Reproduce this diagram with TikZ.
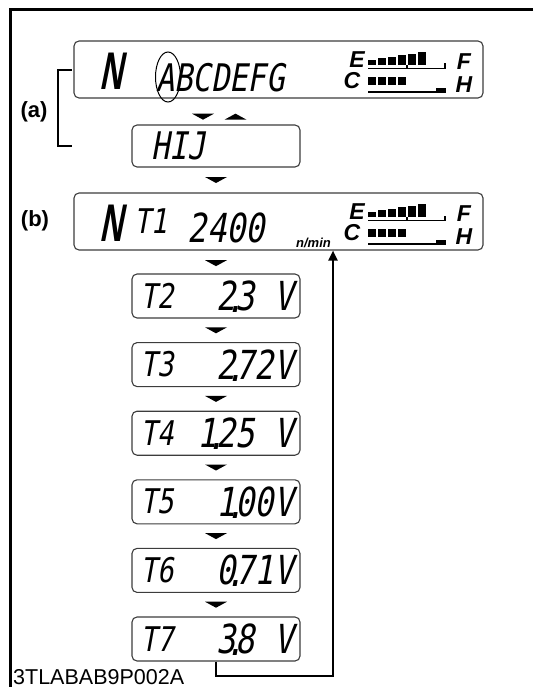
\documentclass[tikz,border=0pt]{standalone}
\usepackage{fontspec}
\setmainfont{Liberation Sans}
\newfontfamily\lcdfont{DejaVu Sans Mono}[FakeStretch=0.8,FakeSlant=0.18]
\newfontfamily\gearfont{Liberation Sans}[FakeStretch=0.6,FakeSlant=0.2]
\usepackage{tikz}
\usetikzlibrary{
    arrows.meta,
    positioning,
    calc,
    shapes.geometric
}
\definecolor{PanelEdge}{RGB}{60,60,60}
\newcommand{\lcddot}{\smash{\raisebox{-2pt}{\makebox[0pt]{.}}}}
\newcommand{\lcdgap}{\phantom{0}}
\tikzset{
    panel/.style={
        draw=PanelEdge,
        line width=1.1pt,
        rounded corners=5pt,
        inner sep=0pt,
        minimum width=409pt,
        minimum height=57pt
    },
    stepbox/.style={
        draw=PanelEdge,
        line width=1.1pt,
        rounded corners=5pt,
        inner sep=0pt,
        minimum width=168pt,
        minimum height=44pt
    },
    lcdtext/.style={
        font=\lcdfont\fontsize{38pt}{38pt}\selectfont,
        inner sep=0pt
    },
    lcdsmall/.style={
        font=\lcdfont\fontsize{34pt}{34pt}\selectfont,
        inner sep=0pt
    },
    lcdnum/.style={
        font=\lcdfont\fontsize{40pt}{40pt}\selectfont,
        inner sep=0pt
    },
    gear/.style={
        font=\gearfont\bfseries\fontsize{53pt}{53pt}\selectfont,
        inner sep=0pt
    },
    gaugelbl/.style={
        font=\bfseries\itshape\fontsize{23pt}{23pt}\selectfont,
        inner sep=0pt
    },
    tag/.style={
        font=\bfseries\fontsize{22pt}{22pt}\selectfont,
        inner sep=0pt
    },
    flowtip/.style={
        fill=black
    },
    backline/.style={
        line width=2.2pt,
        -{Triangle[length=10pt,width=9pt]}
    }
}

\begin{document}
\begin{tikzpicture}[x=1pt,y=-1pt]
%
    \useasboundingbox
    (0,0)
    rectangle
    (533,687);
%
    % frame, open at right and bottom
%
    \draw[
        line width=2.5pt
    ]
    (533,9.5)
    --
    (10.3,9.5)
    --
    (10.3,687);
%
    % displays and step boxes
%
    \node[panel] (dispA) at (278.5,69.5) {};
    \node[stepbox, minimum height=42pt] (dispH) at (216,146) {};
    \node[panel] (dispB) at (278.5,221.5) {};
    \node[stepbox] (t2) at (216,296) {};
    \node[stepbox, below=23.5pt of t2] (t3) {};
    \node[stepbox, below=23.5pt of t3] (t4) {};
    \node[stepbox, below=23.5pt of t4] (t5) {};
    \node[stepbox, below=23.5pt of t5] (t6) {};
    \node[stepbox, below=23.5pt of t6] (t7) {};
%
    % first display: gear and letter field
%
    \node[gear] (gearA) at (111,71) {N};
    \node[
        lcdtext,
        anchor=west
    ]
    (letters) at (156,77.5) {ABCDEFG};
    \node[
        draw,
        ellipse,
        line width=1pt,
        inner sep=0pt,
        minimum width=25pt,
        minimum height=50pt
    ]
    (pick) at (168,77) {};
%
    \node[lcdtext, anchor=west] (hij) at (151,146) {HIJ};
%
    % second display: gear, T1 and engine speed
%
    \node[gear] (gearB) at (111,223) {N};
    \node[lcdsmall, anchor=west] (tone) at (134,221) {T1};
    \node[lcdnum, anchor=east] (rpm) at (265,228) {2400};
    \node[
        anchor=base east,
        inner sep=0pt,
        font=\bfseries\itshape\fontsize{13pt}{13pt}\selectfont
    ]
    (unit) at (331,247) {n/min};
%
    % fuel and temperature gauges, same on both displays
%
    \foreach \yy in {0,152}{
        \foreach \i in {0,...,5}{
            \fill
            (368+10*\i,65+\yy)
            rectangle
            ++(8.3,-5-1.6*\i);
        }
        \draw[
            line width=1.3pt
        ]
        (368,68.5+\yy)
        --
        (445,68.5+\yy)
        --
        (445,63.5+\yy);
        \draw[line width=1.3pt] (407,68.5+\yy) -- (407,65+\yy);
        \foreach \i in {0,...,3}{
            \fill (368+10*\i,77+\yy) rectangle ++(8.3,8);
        }
        \draw[line width=1.3pt] (368,92+\yy) -- (445,92+\yy);
        \fill (436,88+\yy) rectangle (445.6,92.6+\yy);
        \node[gaugelbl] (E\yy) at (357,60+\yy) {E};
        \node[gaugelbl] (C\yy) at (352,81+\yy) {C};
        \node[gaugelbl] (F\yy) at (464,62+\yy) {F};
        \node[gaugelbl] (H\yy) at (464,85+\yy) {H};
    }
%
    % step labels and readings
%
    \foreach \k/\v in {
        2/{2\lcddot3\lcdgap V},
        3/{2\lcddot72V},
        4/{1\lcddot25\lcdgap V},
        5/{1\lcddot00V},
        6/{0\lcddot71V},
        7/{3\lcddot8\lcdgap V}
    }{
        \node[lcdsmall, anchor=west] (lbl\k) at ([xshift=9pt]t\k.west) {T\k};
        \node[lcdnum, anchor=east] (val\k) at ([xshift=-7pt]t\k.east) {\v};
    }
%
    % bracket and tags
%
    \coordinate (brTop) at (72,70);
    \coordinate (brBot) at (72,146);
    \draw[
        line width=2.2pt
    ]
    (brTop)
    --
    ++(-14,0)
    |-
    (brBot);
%
    \node[tag] (tagA) at (34,112) {(a)};
    \node[tag] (tagB) at (35,221) {(b)};
%
    % flow marks
%
    \coordinate (swap) at ($(dispH.north |- dispA.south)!0.7!(dispH.north)$);
    \fill[flowtip]
    ([xshift=-13pt]swap)
    ++(-11,-3) -- ++(22,0) -- ++(-11,6) -- cycle;
    \fill[flowtip]
    ([xshift=19.5pt]swap)
    ++(-11,3) -- ++(22,0) -- ++(-11,-6) -- cycle;
%
    \coordinate (toB) at ($(dispH.south)!0.5!(dispH.south |- dispB.north)$);
    \fill[flowtip]
    (toB)
    ++(-11,-3) -- ++(22,0) -- ++(-11,6) -- cycle;
%
    \coordinate (toT) at ($(t2.north |- dispB.south)!0.55!(t2.north)$);
    \fill[flowtip]
    (toT)
    ++(-11,-3) -- ++(22,0) -- ++(-11,6) -- cycle;
%
    \foreach \a/\b in {t2/t3,t3/t4,t4/t5,t5/t6,t6/t7}{
        \fill[flowtip]
        ($(\a.south)!0.5!(\b.north)$)
        ++(-11,-3) -- ++(22,0) -- ++(-11,6) -- cycle;
    }
%
    % back to the speed display
%
    \coordinate (loop) at (333,676);
    \draw[backline] (t7.south) |- (loop) -- (loop |- dispB.south);
%
    \node[
        anchor=base west,
        inner sep=0pt,
        font=\fontsize{21.5pt}{21.5pt}\selectfont
    ]
    (code) at (13,684) {3TLABAB9P002A};
%
\end{tikzpicture}
\end{document}
